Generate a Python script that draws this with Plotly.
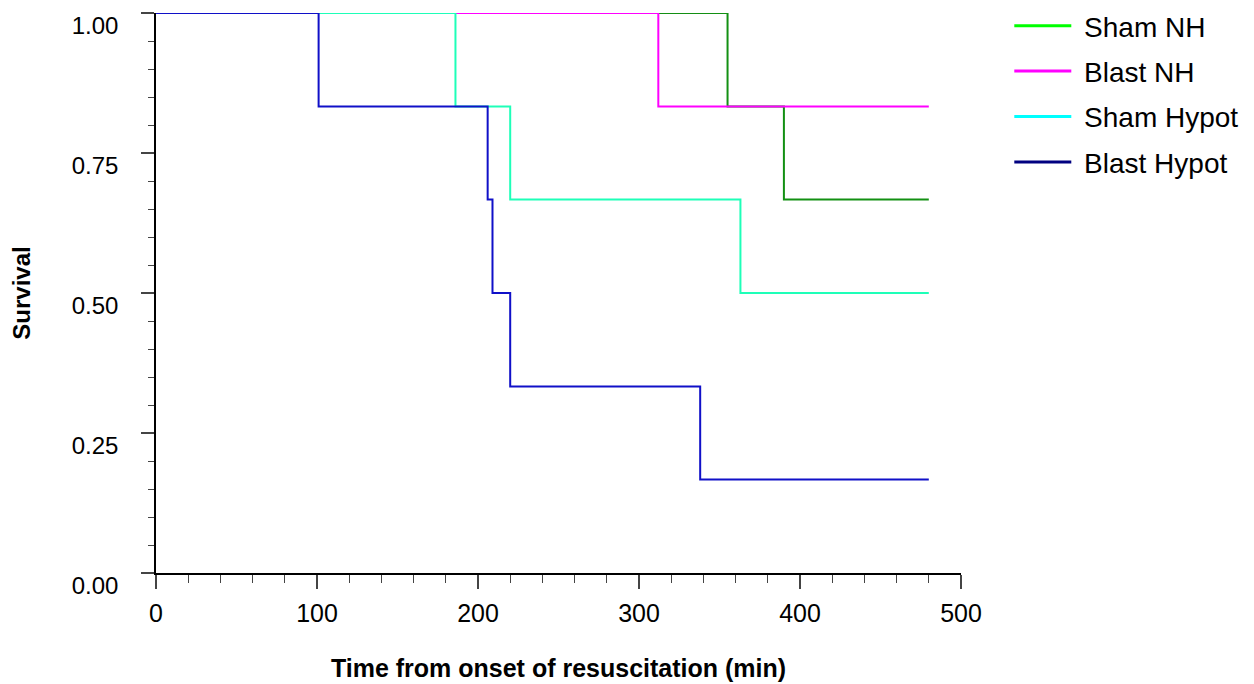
import plotly.graph_objects as go

# Kaplan-Meier step data (time in min, survival fraction)
sham_nh_t = [0, 355, 390, 480]
sham_nh_s = [1.0, 0.833, 0.667, 0.667]

blast_nh_t = [0, 312, 480]
blast_nh_s = [1.0, 0.833, 0.833]

sham_hypot_t = [0, 186, 220, 363, 480]
sham_hypot_s = [1.0, 0.833, 0.667, 0.5, 0.5]

blast_hypot_t = [0, 101, 206, 209, 220, 338, 480]
blast_hypot_s = [1.0, 0.833, 0.667, 0.5, 0.333, 0.167, 0.167]

names = ["Sham NH", "Blast NH", "Sham Hypot", "Blast Hypot"]
line_colors = ["#139013", "#ff00ff", "#1effb8", "#1010c8"]
legend_colors = ["#00ff00", "#ff00ff", "#00ffff", "#000080"]

x_ticks = [0, 100, 200, 300, 400, 500]
y_ticks = [0.0, 0.25, 0.5, 0.75, 1.0]

series = [(sham_nh_t, sham_nh_s), (blast_nh_t, blast_nh_s),
          (sham_hypot_t, sham_hypot_s), (blast_hypot_t, blast_hypot_s)]

FONT = "Arial, Liberation Sans, sans-serif"

fig = go.Figure()
for (t, s), name, col in zip(series, names, line_colors):
    fig.add_trace(go.Scatter(x=t, y=s, mode="lines", line=dict(color=col, width=2, shape="hv"),
                             name=name, showlegend=False, hoverinfo="x+y+name"))

for i, (name, col) in enumerate(zip(names, legend_colors)):
    fig.add_trace(go.Scatter(x=[None], y=[None], mode="lines", line=dict(color=col, width=3),
                             name=" " + name, legendgroup=f"g{i}", showlegend=True))

fig.update_layout(
    width=1246, height=676,
    margin=dict(l=148, r=293, t=5, b=111, autoexpand=False),
    paper_bgcolor="white", plot_bgcolor="white",
    font=dict(family=FONT, color="black", size=22),
    legend=dict(x=1.06, y=1.0214, xanchor="left", yanchor="top",
                font=dict(family=FONT, size=28, color="black"),
                itemwidth=57, tracegroupgap=6, traceorder="grouped",
                bgcolor="rgba(0,0,0,0)"),
    xaxis=dict(range=[0, 500], tickvals=x_ticks, ticks="outside", ticklen=14, tickwidth=1.5,
               showline=True, linecolor="black", linewidth=1.5, showgrid=False, zeroline=False,
               tickfont=dict(size=25), ticklabelstandoff=3,
               minor=dict(ticks="outside", ticklen=8, tickwidth=1.2, dtick=20, tick0=0, showgrid=False),
               title=dict(text="<b>Time from onset of resuscitation (min)</b>", font=dict(size=25), standoff=34)),
    yaxis=dict(range=[0, 1], tickvals=y_ticks, tickformat=".2f", ticks="outside", ticklen=13, tickwidth=1.5,
               showline=True, linecolor="black", linewidth=1.5, showgrid=False, zeroline=False,
               tickfont=dict(size=24), ticklabelstandoff=18, ticklabelshift=13,
               minor=dict(ticks="outside", ticklen=6, tickwidth=1.2, dtick=0.05, tick0=0, showgrid=False),
               title=dict(text="<b>Survival</b>", font=dict(size=24), standoff=36)),
)

fig.write_html("out.html")
